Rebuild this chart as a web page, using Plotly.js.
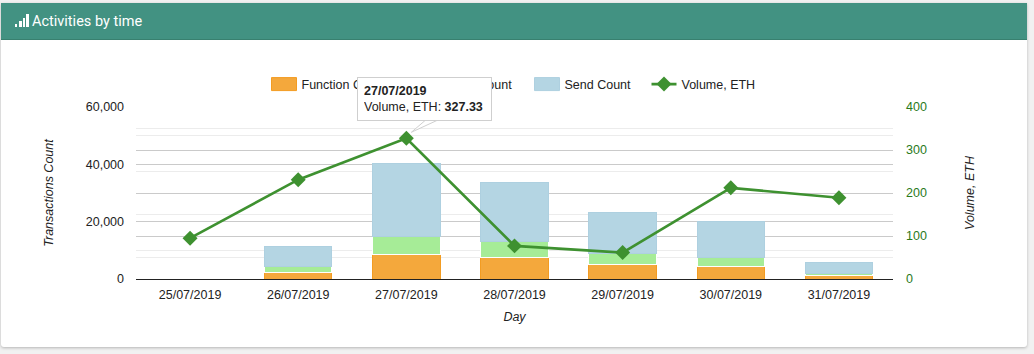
<!DOCTYPE html>
<html><head><meta charset="utf-8">
<script src="https://cdn.plot.ly/plotly-3.0.1.min.js"></script>
<style>
html,body{margin:0;padding:0;width:1034px;height:354px;overflow:hidden;background:#f1f1f1}
#card{position:absolute;left:1px;top:3px;width:1026px;height:344px;background:#fff;box-shadow:0 1px 3px rgba(0,0,0,.25);border-radius:0 0 3px 3px}
#head{position:absolute;left:0;top:0;width:1026px;height:36px;background:#429282;border-bottom:1px solid #38806f}
.ib{position:absolute;background:#fff;width:2.4px;bottom:12px}
#chart{position:absolute;left:0;top:0;width:1034px;height:354px}
</style></head><body>
<div id="card"><div id="head">
<div class="ib" style="left:14px;height:3px"></div><div class="ib" style="left:18.4px;height:6px"></div><div class="ib" style="left:21.8px;height:9px"></div><div class="ib" style="left:25.2px;height:13px"></div>
</div></div>
<div id="chart"></div>
<script>
const days = ['25/07/2019','26/07/2019','27/07/2019','28/07/2019','29/07/2019','30/07/2019','31/07/2019'];
const functionCount = [0, 2100, 8500, 7450, 4900, 4200, 1150];
const tokenCount = [0, 2100, 6300, 5600, 4100, 3250, 850];
const sendCount = [0, 7100, 25400, 20500, 14200, 12500, 3600];
const volumeEth = [95, 231, 327.33, 77, 61.5, 212, 189];
const tipIndex = 2;

const textFont = 'Liberation Sans, Arial, sans-serif';
const traces = [
  {type:'bar', name:'Function Count', x:days, y:functionCount, marker:{color:'#f4a83c', line:{color:'#f39c22', width:1}}},
  {type:'bar', name:'Token Count', x:days, y:tokenCount, marker:{color:'#a6ec97', line:{color:'#ffffff', width:1}}},
  {type:'bar', name:'Send Count', x:days, y:sendCount, marker:{color:'#b4d5e3', line:{color:'#aed0e0', width:1}}},
  {type:'scatter', mode:'lines+markers', name:'Volume, ETH', x:days, y:volumeEth, yaxis:'y2',
   line:{color:'#3e9130', width:2.6}, marker:{symbol:'diamond', size:11.5, color:'#3e9130'}}
];
const layout = {
  width:1034, height:354, paper_bgcolor:'rgba(0,0,0,0)', plot_bgcolor:'rgba(0,0,0,0)',
  margin:{l:136, r:141, t:107, b:75, pad:0}, barmode:'stack', bargap:0.377, showlegend:true,
  font:{family:textFont, size:12.5, color:'#222'},
  title:{text:'Activities by time', x:32/1034, xanchor:'left', y:1-21/354, yanchor:'middle',
         font:{family:'Roboto, sans-serif', size:14.5, color:'#fff'}},
  legend:{orientation:'h', x:(264-136)/757, xanchor:'left', y:1.131, yanchor:'middle', traceorder:'normal',
          font:{size:12.5, color:'#222'}, itemwidth:30, bgcolor:'rgba(0,0,0,0)', entrywidth:100, entrywidthmode:'pixels'},
  xaxis:{type:'category', automargin:false, showgrid:false, showline:true, linecolor:'#222', linewidth:1, ticks:'',
         ticklabelstandoff:4, title:{text:'Day', standoff:11, font:{size:12.5, color:'#222', style:'italic'}}},
  yaxis:{range:[0,60000], dtick:20000, tickformat:',d', automargin:false, zeroline:false, showline:false, ticks:'',
         gridcolor:'#cacaca', gridwidth:1, minor:{dtick:10000, showgrid:true, gridcolor:'#ececec', gridwidth:1},
         ticklabelstandoff:11, title:{text:'Transactions Count', standoff:29, font:{size:12.5, color:'#222', style:'italic'}}},
  yaxis2:{range:[0,400], dtick:100, overlaying:'y', side:'right', automargin:false, zeroline:false, showline:false, ticks:'',
         gridcolor:'#cacaca', gridwidth:1, minor:{dtick:50, showgrid:true, gridcolor:'#ececec', gridwidth:1},
         tickfont:{color:'#2a7a1a', size:12.5}, ticklabelstandoff:12,
         title:{text:'Volume, ETH', standoff:39, font:{size:12.5, color:'#222', style:'italic'}}},
  shapes:[{type:'path', layer:'above', xref:'x', yref:'y2', xsizemode:'pixel', ysizemode:'pixel',
           xanchor:days[tipIndex], yanchor:volumeEth[tipIndex],
           path:'M 5,6 L 19,18 L 31,18 Z', fillcolor:'#fff', line:{color:'#d0d0d0', width:1}}],
  annotations:[{xref:'x', yref:'y2', x:days[tipIndex], y:volumeEth[tipIndex], showarrow:false,
     xanchor:'left', yanchor:'bottom', xshift:-49, yshift:17, align:'left', width:121, height:30,
     bgcolor:'#fff', bordercolor:'#cfcfcf', borderwidth:1, borderpad:6,
     font:{size:12.5, color:'#222'},
     text:'<b>'+days[tipIndex]+'</b><br>Volume, ETH: <b>'+volumeEth[tipIndex].toFixed(2)+'</b>'}]
};
const legendOffsets = [0, 140, 263, 380];
Plotly.newPlot('chart', traces, layout, {displayModeBar:false, responsive:false}).then(function(gd){
  gd.querySelectorAll('.legend .traces').forEach(function(t, i){
    const m = /translate\(([-\d.]+)[ ,]+([-\d.]+)\)/.exec(t.getAttribute('transform') || '');
    t.setAttribute('transform', 'translate(' + legendOffsets[i] + ',' + (m ? m[2] : 0) + ')');
    t.querySelectorAll('.legendpoints path:not(.scatterpts)').forEach(function(q){ q.setAttribute('d','M-12.5,6.5H12.5V-6.5H-12.5Z'); });
    t.querySelectorAll('path.js-line').forEach(function(q){ q.setAttribute('d','M7.5,0h25'); });
    const tx = t.querySelector('text.legendtext');
    if (tx) tx.setAttribute('x', 37.5);
  });
});
</script></body></html>
